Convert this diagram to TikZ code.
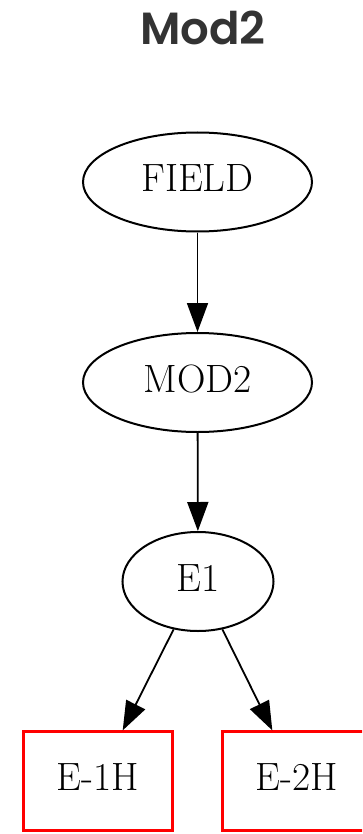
\documentclass[tikz,border=0pt]{standalone}
\usepackage{fontspec}
\newfontfamily\titlefont{Poppins}[UprightFont={* SemiBold}]
\usetikzlibrary{arrows.meta,shapes.geometric}
\begin{document}
\begin{tikzpicture}[x=1pt,y=-1pt,
  ell/.style={draw, ellipse, line width=2pt, inner sep=0pt, minimum height=99pt,
    font=\fontsize{39.5}{47}\selectfont, text depth=7pt},
  box/.style={draw=red, rectangle, line width=2.2pt, inner sep=0pt, minimum width=149pt,
    minimum height=99pt, font=\fontsize{39.5}{47}\selectfont, text depth=7pt},
  edge/.style={line width=1.8pt, -{Triangle[length=29pt,width=21pt]}}]
\useasboundingbox (0,0) rectangle (362,834);
\clip (0,0) rectangle (362,834);
\fill[white] (0,0) rectangle (362,834);
\node[font=\titlefont\fontsize{45}{54}\selectfont, text=black!80, anchor=base] (title) at (203,45) {Mod2};
\node[ell, minimum width=229pt] (field) at (197.5,182) {FIELD};
\node[ell, minimum width=229pt] (mod2) at (197.5,382.5) {MOD2};
\node[ell, minimum width=151pt] (e1) at (198,581.5) {E1};
\node[box] (e1h) at (98,781) {E-1H};
\node[box] (e2h) at (297,781) {E-2H};
\draw[edge] (field) -- (mod2);
\draw[edge] (mod2) -- (e1);
\draw[edge] (e1.243) -- (e1h.64);
\draw[edge] (e1.297) -- (e2h.116);
\end{tikzpicture}
\end{document}
